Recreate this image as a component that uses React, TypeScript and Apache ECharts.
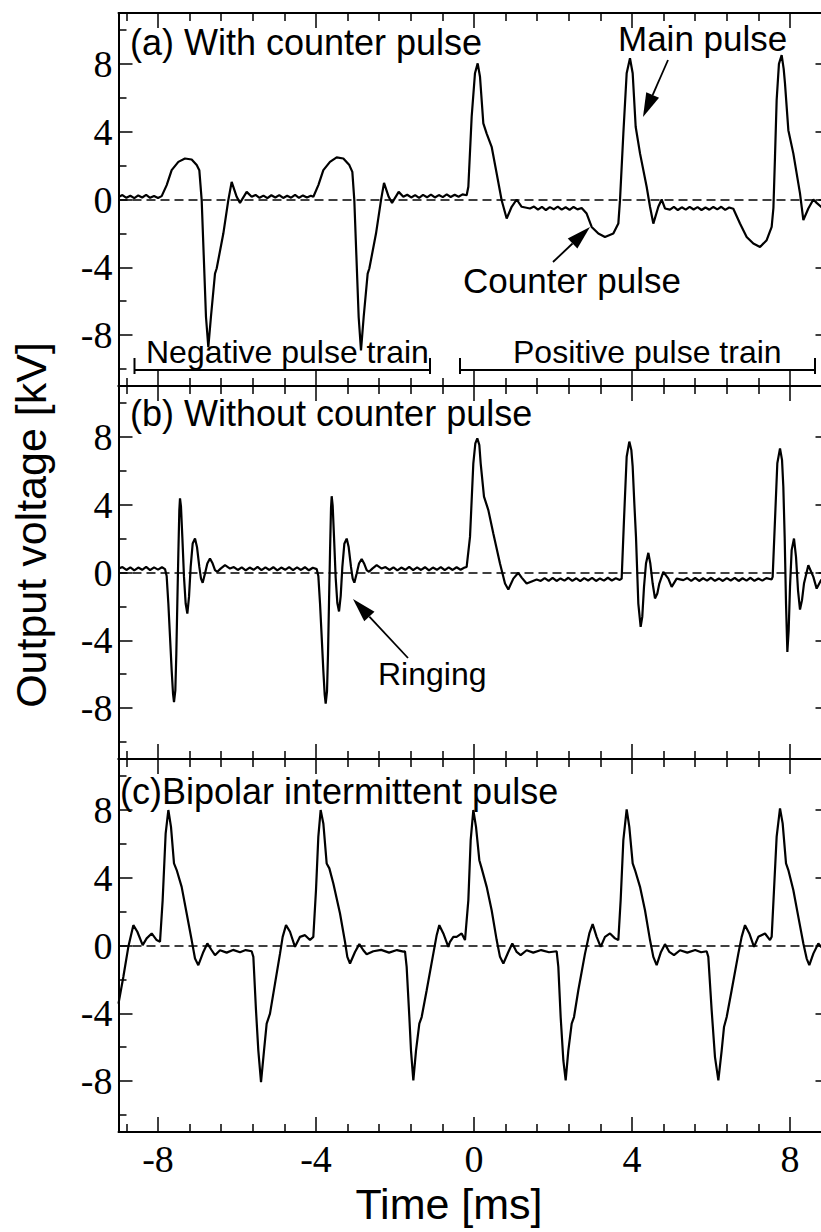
import React, { useEffect, useRef } from "react";
import * as echarts from "echarts";

// ---------- tick values ----------
const X_MAJOR = [-8, -4, 0, 4, 8];
const X_MINOR = [-8.8, -7.2, -6.4, -5.6, -4.8, -3.2, -2.4, -1.6, -0.8, 0.8, 1.6, 2.4, 3.2, 4.8, 5.6, 6.4, 7.2, 8.8];
const Y_MAJOR = [-8, -4, 0, 4, 8];
const Y_MINOR = [-10, -6, -2, 2, 6, 10];

// ---------- waveforms [time ms, voltage kV] ----------
const withCounterPulse: [number, number][] = [
  [-9.0, 0.15], [-8.9, 0.26], [-8.8, 0.1], [-8.7, 0.22], [-8.6, 0.08], [-8.5, 0.24], [-8.4, 0.12], [-8.3, 0.27],
  [-8.2, 0.1], [-8.1, 0.21], [-8.0, 0.09], [-7.907, 0.2],
  [-7.78, 0.85], [-7.654, 1.73], [-7.485, 2.22], [-7.317, 2.42], [-7.148, 2.36], [-7.02, 2.03], [-6.954, 1.73],
  [-6.894, -0.04], [-6.785, -6.93], [-6.726, -8.71], [-6.66, -6.93], [-6.557, -4.37], [-6.515, -4.07],
  [-6.346, -2.01], [-6.22, -0.04], [-6.135, 1.04], [-6.008, 0.16], [-5.924, -0.2], [-5.755, 0.45], [-5.628, 0.16],
  [-5.53, 0.27], [-5.43, 0.1], [-5.33, 0.23], [-5.23, 0.08], [-5.13, 0.25], [-5.03, 0.12], [-4.93, 0.26], [-4.83, 0.09],
  [-4.73, 0.22], [-4.63, 0.11], [-4.53, 0.27], [-4.43, 0.1], [-4.33, 0.24], [-4.23, 0.12], [-4.13, 0.22], [-4.067, 0.16],
  [-3.94, 0.85], [-3.814, 1.73], [-3.646, 2.22], [-3.477, 2.48], [-3.308, 2.42], [-3.156, 2.03], [-3.08, 1.63],
  [-3.03, -0.04], [-2.92, -6.93], [-2.861, -8.9], [-2.793, -6.93], [-2.692, -4.37], [-2.65, -4.07], [-2.481, -2.01],
  [-2.354, -0.04], [-2.278, 0.98], [-2.16, 0.16], [-2.075, -0.2], [-1.907, 0.45], [-1.789, 0.16],
  [-1.69, 0.28], [-1.59, 0.12], [-1.49, 0.26], [-1.39, 0.1], [-1.29, 0.27], [-1.19, 0.13], [-1.09, 0.29], [-0.99, 0.12],
  [-0.89, 0.26], [-0.79, 0.14], [-0.69, 0.3], [-0.59, 0.15], [-0.49, 0.28], [-0.39, 0.16], [-0.29, 0.3], [-0.186, 0.25],
  [-0.143, 0.75], [-0.059, 4.88], [0.025, 7.45], [0.093, 8.03], [0.152, 7.24], [0.236, 4.49], [0.321, 3.89],
  [0.447, 3.11], [0.574, 1.53], [0.7, -0.04], [0.827, -1.12], [0.954, -0.43], [1.08, 0.0], [1.207, -0.43],
  [1.418, -0.53], [1.52, -0.42], [1.62, -0.6], [1.72, -0.44], [1.82, -0.62], [1.92, -0.45], [2.02, -0.58], [2.12, -0.42],
  [2.22, -0.6], [2.32, -0.46], [2.42, -0.61], [2.52, -0.44], [2.62, -0.58], [2.726, -0.5],
  [2.852, -0.83], [2.979, -1.62], [3.148, -2.01], [3.316, -2.21], [3.527, -2.01], [3.654, -1.42], [3.696, -0.04],
  [3.781, 3.89], [3.865, 7.45], [3.949, 8.33], [4.017, 7.45], [4.093, 4.29], [4.203, 2.72], [4.371, 0.75],
  [4.456, -0.43], [4.54, -1.42], [4.667, -0.43], [4.751, 0.0], [4.835, -0.53], [4.962, -0.6],
  [5.06, -0.44], [5.16, -0.62], [5.26, -0.46], [5.36, -0.6], [5.46, -0.43], [5.56, -0.59], [5.66, -0.45], [5.76, -0.62],
  [5.86, -0.47], [5.96, -0.6], [6.06, -0.44], [6.16, -0.58], [6.26, -0.43], [6.36, -0.61], [6.46, -0.47], [6.565, -0.55],
  [6.734, -1.42], [6.903, -2.21], [7.072, -2.6], [7.241, -2.8], [7.409, -2.4], [7.536, -1.62], [7.58, -0.5],
  [7.62, 2.5], [7.662, 5.86], [7.72, 8.0], [7.789, 8.52], [7.84, 7.7], [7.873, 6.85], [7.958, 4.09], [8.084, 2.72],
  [8.253, 0.36], [8.338, -1.22], [8.464, -0.53], [8.591, 0.0], [8.675, -0.2], [8.785, -0.43], [9.0, -0.5],
];

const withoutCounterPulse: [number, number][] = [
  [-9.0, 0.23], [-8.9, 0.32], [-8.8, 0.15], [-8.7, 0.3], [-8.6, 0.13], [-8.5, 0.29], [-8.4, 0.16], [-8.3, 0.33],
  [-8.2, 0.14], [-8.1, 0.3], [-8.0, 0.17], [-7.9, 0.31], [-7.823, 0.2],
  [-7.781, -0.2], [-7.738, -1.83], [-7.696, -3.8], [-7.654, -5.77], [-7.62, -7.14], [-7.595, -7.64], [-7.561, -6.95],
  [-7.536, -4.78], [-7.511, -1.83], [-7.485, 1.12], [-7.46, 3.68], [-7.443, 4.37], [-7.418, 3.88], [-7.384, 2.1],
  [-7.342, -0.26], [-7.3, -1.83], [-7.257, -2.42], [-7.215, -1.44], [-7.173, 0.33], [-7.122, 1.71], [-7.063, 2.0],
  [-7.013, 1.51], [-6.954, 0.33], [-6.911, -0.36], [-6.869, -0.61], [-6.81, -0.06], [-6.751, 0.53], [-6.684, 0.82],
  [-6.616, 0.53], [-6.557, 0.14], [-6.498, 0.04], [-6.414, 0.23], [-6.304, 0.43], [-6.177, 0.23],
  [-6.08, 0.32], [-5.98, 0.15], [-5.88, 0.3], [-5.78, 0.12], [-5.68, 0.29], [-5.58, 0.16], [-5.48, 0.33], [-5.38, 0.14],
  [-5.28, 0.3], [-5.18, 0.15], [-5.08, 0.31], [-4.98, 0.13], [-4.88, 0.29], [-4.78, 0.16], [-4.68, 0.32], [-4.58, 0.14],
  [-4.48, 0.3], [-4.38, 0.15], [-4.28, 0.31], [-4.18, 0.13], [-4.08, 0.28], [-3.983, 0.2],
  [-3.941, -0.2], [-3.898, -1.83], [-3.856, -3.8], [-3.814, -5.8], [-3.78, -7.2], [-3.755, -7.74], [-3.721, -7.0],
  [-3.696, -4.8], [-3.671, -1.8], [-3.645, 1.2], [-3.62, 3.8], [-3.603, 4.5], [-3.578, 3.95], [-3.544, 2.1],
  [-3.502, -0.3], [-3.46, -1.8], [-3.417, -2.3], [-3.375, -1.4], [-3.333, 0.33], [-3.282, 1.7], [-3.223, 2.0],
  [-3.173, 1.5], [-3.114, 0.33], [-3.071, -0.36], [-3.029, -0.6], [-2.97, -0.06], [-2.911, 0.53], [-2.844, 0.8],
  [-2.776, 0.5], [-2.717, 0.14], [-2.658, 0.04], [-2.574, 0.23], [-2.464, 0.43], [-2.337, 0.23],
  [-2.24, 0.32], [-2.14, 0.15], [-2.04, 0.3], [-1.94, 0.12], [-1.84, 0.29], [-1.74, 0.16], [-1.64, 0.33], [-1.54, 0.14],
  [-1.44, 0.3], [-1.34, 0.15], [-1.24, 0.31], [-1.14, 0.13], [-1.04, 0.29], [-0.94, 0.16], [-0.84, 0.32], [-0.74, 0.14],
  [-0.64, 0.3], [-0.54, 0.15], [-0.44, 0.31], [-0.34, 0.16], [-0.25, 0.28], [-0.186, 0.33],
  [-0.101, 2.1], [-0.017, 6.44], [0.034, 7.62], [0.084, 7.91], [0.135, 7.52], [0.169, 6.44], [0.253, 4.47],
  [0.363, 3.68], [0.489, 2.3], [0.658, 0.53], [0.785, -0.65], [0.869, -1.0], [0.996, -0.36], [1.122, -0.02],
  [1.207, -0.3], [1.333, -0.65], [1.587, -0.41],
  [1.69, -0.5], [1.79, -0.33], [1.89, -0.49], [1.99, -0.32], [2.09, -0.5], [2.19, -0.35], [2.29, -0.48], [2.39, -0.31],
  [2.49, -0.49], [2.59, -0.34], [2.69, -0.51], [2.79, -0.33], [2.89, -0.47], [2.99, -0.32], [3.09, -0.5], [3.19, -0.35],
  [3.29, -0.48], [3.39, -0.31], [3.49, -0.47], [3.59, -0.34], [3.69, -0.44], [3.738, -0.36],
  [3.797, 3.09], [3.865, 6.83], [3.932, 7.72], [3.983, 7.23], [4.017, 6.24], [4.059, 4.08], [4.101, 2.1],
  [4.16, -1.83], [4.219, -3.21], [4.26, -2.62], [4.304, -0.85], [4.354, 0.53], [4.414, 1.16], [4.464, 0.53],
  [4.523, -0.65], [4.582, -1.53], [4.641, -1.24], [4.692, -0.65], [4.793, 0.04], [4.92, -0.36], [5.004, -0.85],
  [5.131, -0.36], [5.3, -0.45],
  [5.4, -0.33], [5.5, -0.49], [5.6, -0.32], [5.7, -0.5], [5.8, -0.34], [5.9, -0.48], [6.0, -0.31], [6.1, -0.49],
  [6.2, -0.35], [6.3, -0.5], [6.4, -0.33], [6.5, -0.47], [6.6, -0.32], [6.7, -0.5], [6.8, -0.34], [6.9, -0.48],
  [7.0, -0.31], [7.1, -0.49], [7.2, -0.35], [7.3, -0.48], [7.4, -0.33], [7.536, -0.41],
  [7.561, -0.26], [7.62, 3.09], [7.679, 6.44], [7.747, 7.32], [7.798, 6.64], [7.831, 5.06], [7.865, 2.1],
  [7.899, -1.83], [7.933, -4.69], [7.966, -3.41], [8.0, -0.85], [8.042, 1.32], [8.101, 2.0], [8.152, 0.92],
  [8.203, -1.05], [8.253, -2.19], [8.304, -1.63], [8.354, -0.65], [8.464, 0.43], [8.591, -0.26], [8.675, -0.95],
  [8.785, -0.45], [9.0, -0.3],
];

const bipolarPulse: [number, number][] = [
  [-9.0, -3.43], [-8.878, -1.86], [-8.751, -0.08], [-8.624, 1.2], [-8.523, 0.81], [-8.388, 0.02], [-8.287, 0.42],
  [-8.16, 0.71], [-8.034, 0.32], [-7.949, 0.22], [-7.882, 2.68], [-7.806, 6.62], [-7.738, 7.99], [-7.671, 7.0],
  [-7.595, 4.84], [-7.527, 4.45], [-7.401, 3.46], [-7.274, 1.89], [-7.148, 0.32], [-7.063, -0.77], [-6.979, -1.16],
  [-6.852, -0.38], [-6.751, 0.12], [-6.641, -0.28], [-6.557, -0.57], [-6.43, -0.28], [-6.262, -0.42], [-6.1, -0.26],
  [-5.924, -0.4], [-5.78, -0.27], [-5.629, -0.34], [-5.586, -0.67], [-5.519, -3.83], [-5.46, -6.2], [-5.392, -8.06],
  [-5.316, -6.2], [-5.249, -4.61], [-5.165, -4.02], [-5.038, -2.25], [-4.911, -0.48], [-4.844, 0.51], [-4.759, 1.2],
  [-4.658, 0.81], [-4.532, -0.08], [-4.405, 0.51], [-4.278, 0.61], [-4.152, 0.32], [-4.068, 0.51], [-4.0, 3.27],
  [-3.941, 6.42], [-3.882, 7.99], [-3.814, 7.2], [-3.73, 4.84], [-3.662, 4.55], [-3.561, 3.66], [-3.392, 1.89],
  [-3.266, 0.22], [-3.207, -0.67], [-3.139, -1.06], [-3.013, -0.38], [-2.903, 0.08], [-2.802, -0.28], [-2.717, -0.52],
  [-2.549, -0.34], [-2.35, -0.26], [-2.15, -0.42], [-1.95, -0.27], [-1.789, -0.36], [-1.747, -0.34], [-1.705, -1.26],
  [-1.637, -4.22], [-1.595, -6.2], [-1.536, -7.96], [-1.468, -6.2], [-1.384, -4.61], [-1.325, -4.22], [-1.198, -2.64],
  [-1.03, -0.48], [-0.945, 0.61], [-0.878, 1.2], [-0.776, 0.71], [-0.65, -0.08], [-0.608, 0.22], [-0.523, 0.51],
  [-0.439, 0.51], [-0.312, 0.71], [-0.228, 0.32], [-0.143, 2.68], [-0.084, 6.22], [-0.017, 7.99], [0.051, 7.0],
  [0.135, 5.03], [0.194, 4.55], [0.321, 3.46], [0.447, 2.08], [0.574, 0.32], [0.658, -0.67], [0.743, -1.06],
  [0.869, -0.38], [0.97, 0.12], [1.08, -0.38], [1.181, -0.57], [1.333, -0.28], [1.5, -0.42], [1.7, -0.27],
  [1.9, -0.4], [2.093, -0.34], [2.135, -1.26], [2.194, -4.22], [2.262, -6.78], [2.321, -7.96], [2.388, -6.2],
  [2.473, -4.61], [2.532, -4.22], [2.641, -2.64], [2.81, -0.48], [2.92, 0.71], [3.004, 1.26], [3.105, 0.51],
  [3.207, -0.08], [3.316, 0.51], [3.443, 0.71], [3.57, 0.42], [3.654, 0.32], [3.713, 2.68], [3.781, 6.22],
  [3.865, 8.03], [3.932, 7.0], [4.017, 4.84], [4.076, 4.45], [4.203, 3.46], [4.329, 2.08], [4.456, 0.32],
  [4.54, -0.67], [4.624, -1.16], [4.734, -0.38], [4.835, 0.08], [4.945, -0.38], [5.063, -0.57], [5.215, -0.28],
  [5.4, -0.42], [5.6, -0.27], [5.75, -0.4], [5.89, -0.34], [5.932, -0.67], [6.017, -3.83], [6.101, -6.58],
  [6.186, -7.96], [6.27, -6.2], [6.329, -4.81], [6.397, -4.22], [6.523, -2.64], [6.692, -0.48], [6.776, 0.51],
  [6.861, 1.2], [6.97, 0.71], [7.089, -0.08], [7.198, 0.51], [7.367, 0.71], [7.494, 0.32], [7.536, 0.51],
  [7.595, 3.27], [7.662, 6.42], [7.747, 8.09], [7.814, 7.2], [7.899, 4.84], [7.958, 4.45], [8.084, 3.27],
  [8.211, 1.69], [8.338, 0.12], [8.422, -0.77], [8.489, -1.16], [8.591, -0.48], [8.717, 0.12], [8.785, -0.08],
  [9.0, -0.3],
];

const PANELS = [withCounterPulse, withoutCounterPulse, bipolarPulse];

const SANS = "Liberation Sans, Arial, Helvetica, sans-serif";
const SERIF = "Liberation Serif, Times New Roman, Times, serif";

const GRID_TOPS = [13, 386, 759];
const GRID_LEFT = 118.5;
const GRID_W = 711;
const GRID_H = 373;

function text(x: number, y: number, s: string, size: number, extra: any = {}) {
  const { align, ...rest } = extra;
  return {
    type: "text",
    x,
    y,
    silent: true,
    z: 100,
    ...rest,
    style: {
      text: s,
      fill: "#000",
      fontFamily: SANS,
      fontSize: size,
      textAlign: align || "left",
      textVerticalAlign: "middle",
    },
  };
}

function seg(x1: number, y1: number, x2: number, y2: number, w = 2) {
  return { type: "line", silent: true, z: 100, shape: { x1, y1, x2, y2 }, style: { stroke: "#000", lineWidth: w } };
}

function arrow(x1: number, y1: number, x2: number, y2: number) {
  const dx = x2 - x1, dy = y2 - y1;
  const L = Math.hypot(dx, dy);
  const ux = dx / L, uy = dy / L;
  const hl = 24, hw = 7;
  const bx = x2 - ux * hl, by = y2 - uy * hl;
  return [
    seg(x1, y1, bx, by, 1.8),
    {
      type: "polygon",
      silent: true,
      z: 100,
      shape: { points: [[x2, y2], [bx - uy * hw, by + ux * hw], [bx + uy * hw, by - ux * hw]] },
      style: { fill: "#000" },
    },
  ];
}

function bracket(x1: number, x2: number) {
  return [seg(x1, 370, x2, 370, 2), seg(x1, 358, x1, 374, 2), seg(x2, 358, x2, 374, 2)];
}

export default function App() {
  const ref = useRef<HTMLDivElement>(null);
  useEffect(() => {
    const chart = echarts.init(ref.current!, null, { renderer: "svg" });
    const tickLine = { color: "#000", width: 1.5 };
    const grids: any[] = [];
    const xAxes: any[] = [];
    const yAxes: any[] = [];
    const series: any[] = [];
    PANELS.forEach((data, g) => {
      grids.push({ left: GRID_LEFT, top: GRID_TOPS[g], width: GRID_W, height: GRID_H, containLabel: false });
      (["bottom", "top"] as const).forEach((pos) => {
        xAxes.push({
          type: "value", gridIndex: g, position: pos, min: -9, max: 9,
          axisLine: { show: true, onZero: false, lineStyle: { color: "#000", width: 2 } },
          axisTick: { show: true, inside: true, length: 15, customValues: X_MAJOR, lineStyle: tickLine },
          axisLabel: {
            show: g === 2 && pos === "bottom", customValues: X_MAJOR, color: "#000",
            fontFamily: SERIF, fontSize: 38, margin: 8,
          },
          splitLine: { show: false },
        });
        xAxes.push({
          type: "value", gridIndex: g, position: pos, min: -9, max: 9,
          axisLine: { show: false, onZero: false },
          axisTick: { show: true, inside: true, length: 8, customValues: X_MINOR, lineStyle: tickLine },
          axisLabel: { show: false },
          splitLine: { show: false },
        });
      });
      (["left", "right"] as const).forEach((pos) => {
        yAxes.push({
          type: "value", gridIndex: g, position: pos, min: -11, max: 11,
          axisLine: { show: true, onZero: false, lineStyle: { color: "#000", width: 2 } },
          axisTick: { show: true, inside: true, length: 14, customValues: Y_MAJOR, lineStyle: tickLine },
          axisLabel: {
            show: pos === "left", customValues: Y_MAJOR, color: "#000",
            fontFamily: SERIF, fontSize: 38, margin: 6,
          },
          splitLine: { show: false },
        });
        yAxes.push({
          type: "value", gridIndex: g, position: pos, min: -11, max: 11,
          axisLine: { show: false, onZero: false },
          axisTick: { show: true, inside: true, length: 8, customValues: Y_MINOR, lineStyle: tickLine },
          axisLabel: { show: false },
          splitLine: { show: false },
        });
      });
      series.push({
        type: "line",
        xAxisIndex: g * 4,
        yAxisIndex: g * 4,
        data,
        showSymbol: false,
        symbol: "none",
        silent: true,
        lineStyle: { color: "#000", width: 2.2 },
        z: 5,
        markLine: {
          silent: true,
          symbol: "none",
          label: { show: false },
          lineStyle: { color: "#000", type: [9, 5], width: 1.5 },
          data: [{ yAxis: 0 }],
        },
      });
    });

    const graphic: any[] = [
      text(130, 42, "(a) With counter pulse", 36),
      text(130, 413, "(b) Without counter pulse", 36),
      text(120, 791, "(c)Bipolar intermittent pulse", 36),
      text(618, 38, "Main pulse", 35),
      text(463, 280, "Counter pulse", 35),
      text(378, 674, "Ringing", 32),
      text(146, 352, "Negative pulse train", 32),
      text(513, 352, "Positive pulse train", 32),
      text(449, 1204, "Time [ms]", 43, { align: "center" }),
      text(31, 525, "Output voltage [kV]", 43, { align: "center", rotation: Math.PI / 2 }),
      ...arrow(668, 60, 643, 117),
      ...arrow(553, 262, 590, 227),
      ...arrow(408, 658, 353, 599),
      ...bracket(134.5, 430),
      ...bracket(460, 815),
    ];

    chart.setOption({
      animation: false,
      backgroundColor: "#fff",
      grid: grids,
      xAxis: xAxes,
      yAxis: yAxes,
      series,
      graphic,
    });
    return () => chart.dispose();
  }, []);
  return (
    <div style={{ position: "fixed", left: 0, top: 0, width: 821, height: 1232, overflow: "hidden", background: "#fff" }}>
      <div ref={ref} style={{ width: 840, height: 1232 }} />
    </div>
  );
}
